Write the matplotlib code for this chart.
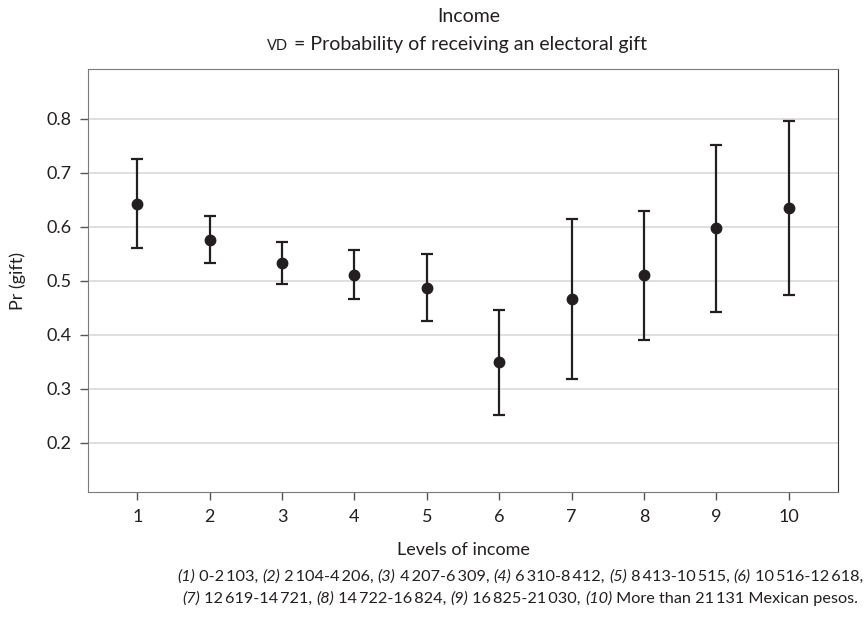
import matplotlib
matplotlib.use('Agg')
import matplotlib.pyplot as plt
import numpy as np

plt.rcParams['font.family'] = ['Lato', 'DejaVu Sans']

# levels of income and predicted probability with 95% CI
levels = [1, 2, 3, 4, 5, 6, 7, 8, 9, 10]
pr_gift = [0.643, 0.575, 0.533, 0.511, 0.487, 0.349, 0.467, 0.510, 0.598, 0.635]
ci_low = [0.561, 0.532, 0.494, 0.466, 0.425, 0.251, 0.318, 0.390, 0.443, 0.474]
ci_high = [0.726, 0.619, 0.572, 0.557, 0.550, 0.446, 0.615, 0.629, 0.752, 0.796]
y_ticks = [0.2, 0.3, 0.4, 0.5, 0.6, 0.7, 0.8]

TS = '\u2009'
footnote = [
    [('(1)', True), (f' 0-2{TS}103, ', False), ('(2)', True), (f' 2{TS}104-4{TS}206, ', False),
     ('(3)', True), (f' 4{TS}207-6{TS}309, ', False), ('(4)', True), (f' 6{TS}310-8{TS}412, ', False),
     ('(5)', True), (f' 8{TS}413-10{TS}515, ', False), ('(6)', True), (f' 10{TS}516-12{TS}618,', False)],
    [('(7)', True), (f' 12{TS}619-14{TS}721, ', False), ('(8)', True), (f' 14{TS}722-16{TS}824, ', False),
     ('(9)', True), (f' 16{TS}825-21{TS}030, ', False), ('(10)', True),
     (f' More than 21{TS}131 Mexican pesos.', False)],
]

INK = '#231f20'
W, H = 866, 617

fig = plt.figure(figsize=(W / 100, H / 100), dpi=100)
ax = fig.add_axes([88 / W, 1 - 492 / H, 750 / W, 423 / H])

y = np.array(pr_gift)
yerr = [y - np.array(ci_low), np.array(ci_high) - y]
ax.errorbar(levels, y, yerr=yerr, fmt='o', color=INK, ecolor=INK,
            markersize=7.5, elinewidth=1.6, capsize=4, capthick=1.6, zorder=3)

ax.set_xlim(0.32, 10.68)
ax.set_ylim(0.109, 0.892)
ax.set_xticks(levels)
ax.set_yticks(y_ticks)
ax.set_yticklabels([f'{v:.1f}' for v in y_ticks])
ax.grid(axis='y', color='#d9d9d9', linewidth=1.2, zorder=0)
ax.set_axisbelow(True)
for side in ['left', 'top', 'bottom']:
    ax.spines[side].set_color('#7a7a7a')
ax.spines['right'].set_color('#333333')
ax.tick_params(axis='both', colors='#555555', labelcolor=INK, labelsize=13,
               length=6, width=1)
ax.tick_params(axis='x', pad=6)
ax.tick_params(axis='y', pad=6)

ax.set_xlabel('Levels of income', fontsize=13, color=INK)
ax.set_ylabel('Pr (gift)', fontsize=13, color=INK)
ax.xaxis.set_label_coords(0.5, (492 - 555) / 423)
ax.xaxis.label.set_va('baseline')
ax.yaxis.set_label_coords((18 - 88) / 750, 0.5)
ax.yaxis.label.set_va('center')

fig.text(469 / W, 1 - 22 / H, 'Income', ha='center', va='baseline', fontsize=14, color=INK)
# subtitle with small caps "VD"
r = fig.canvas.get_renderer()
t1 = fig.text(0, 1 - 50 / H, 'VD', fontsize=10.5, va='baseline', color=INK)
t2 = fig.text(0, 1 - 50 / H, ' = Probability of receiving an electoral gift', fontsize=14,
              va='baseline', color=INK)
w1 = t1.get_window_extent(r).width
w2 = t2.get_window_extent(r).width
x0 = 457 - (w1 + w2) / 2
t1.set_x(x0 / W)
t2.set_x((x0 + w1) / W)

# footnote with italic labels
for i, line in enumerate(footnote):
    ybase = 1 - (581 + 22 * i) / H
    texts = []
    for s, it in line:
        texts.append(fig.text(0, ybase, s, fontsize=11.7, style='italic' if it else 'normal',
                              va='baseline', color=INK))
    widths = [t.get_window_extent(r).width for t in texts]
    xpos = 520 - sum(widths) / 2
    for t, w in zip(texts, widths):
        t.set_x(xpos / W)
        xpos += w

fig.savefig('out.png', dpi=100)
